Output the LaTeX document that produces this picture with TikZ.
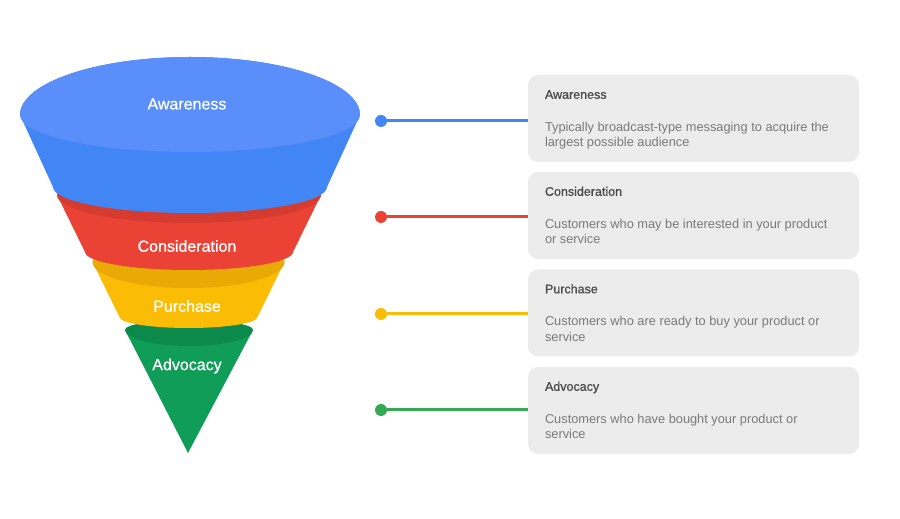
\documentclass[tikz,border=0pt]{standalone}
\usepackage{fontspec}
\setmainfont{Liberation Sans}
\newfontfamily\medfont[FakeBold=0.8]{Liberation Sans}
\usetikzlibrary{calc,positioning}
\definecolor{gblue}{HTML}{4285F4}
\definecolor{gbluetop}{HTML}{5A8EFB}
\definecolor{gred}{HTML}{EA4335}
\definecolor{gredtop}{HTML}{D63B30}
\definecolor{gyellow}{HTML}{FBBC05}
\definecolor{gyellowtop}{HTML}{EAAA05}
\definecolor{ggreen}{HTML}{0F9D58}
\definecolor{ggreentop}{HTML}{0C8A4C}
\definecolor{glink}{HTML}{34A853}
\definecolor{boxgrey}{HTML}{ECECEC}
\definecolor{titlegrey}{HTML}{4A4A4A}
\definecolor{textgrey}{HTML}{7A7A7A}
\begin{document}
\begin{tikzpicture}[x=1pt,y=1pt,
    dot/.style={circle,inner sep=0pt,minimum size=12pt},
    link/.style={line width=3pt},
    infobox/.style={rounded corners=10pt,fill=boxgrey,minimum width=331pt,minimum height=87pt,inner sep=0pt},
    boxtitle/.style={anchor=base west,inner sep=0pt,text=titlegrey,font=\medfont\fontsize{12.5}{15}\selectfont},
    boxtext/.style={anchor=north west,inner sep=0pt,align=left,text=textgrey,font=\fontsize{12.8}{15.5}\selectfont},
    stage/.style={text=white,font=\medfont\fontsize{16}{19}\selectfont}]
\useasboundingbox (0,0) rectangle (900,519);
% funnel, bottom layer first
\fill[ggreen] (125,189) -- (188,66) -- (253,189) arc[start angle=0,end angle=180,x radius=64,y radius=10] -- cycle;
\fill[ggreentop] (125,189) arc[start angle=180,end angle=0,x radius=64,y radius=10]
                 arc[start angle=0,end angle=-180,x radius=64,y radius=16] -- cycle;
\fill[gyellow] (92.5,257) -- (119.5,202) arc[start angle=180,end angle=360,x radius=69,y radius=11]
               -- (284.5,257) arc[start angle=0,end angle=180,x radius=96,y radius=15] -- cycle;
\fill[gyellowtop] (92.5,257) arc[start angle=180,end angle=0,x radius=96,y radius=15]
                  arc[start angle=0,end angle=-180,x radius=96,y radius=26] -- cycle;
\fill[gred] (57,324) -- (85,267) arc[start angle=180,end angle=360,x radius=104,y radius=18]
            -- (321,324) arc[start angle=0,end angle=180,x radius=132,y radius=20] -- cycle;
\fill[gredtop] (57,324) arc[start angle=180,end angle=0,x radius=132,y radius=20]
               arc[start angle=0,end angle=-180,x radius=132,y radius=28] -- cycle;
\fill[gblue] (20,404) -- (53,332) arc[start angle=180,end angle=360,x radius=137,y radius=26]
             -- (327,332) -- (360,404) arc[start angle=0,end angle=180,x radius=170,y radius=58] -- cycle;
\fill[gbluetop] (20,404) arc[start angle=180,end angle=0,x radius=170,y radius=58]
                arc[start angle=0,end angle=-180,x radius=170,y radius=37] -- cycle;
\node[stage] (awstage) at (187,415) {Awareness};
\node[stage] (costage) at (187,273) {Consideration};
\node[stage] (pustage) at (187,213) {Purchase};
\node[stage] (adstage) at (187,153) {Advocacy};
% awareness
\node[infobox] (awbox) at (693.5,400.5) {};
\node[dot,fill=gblue] (awdot) at (381,398) {};
\draw[link,gblue] (awdot) -- (awbox.west |- awdot);
\node[boxtitle] (awtitle) at ($(awbox.north west)+(17,-24)$) {Awareness};
\node[boxtext] (awtext) at ($(awbox.north west)+(17,-47)$) {Typically broadcast-type messaging to acquire the\\largest possible audience};
% consideration
\node[infobox] (cobox) at (693.5,303.5) {};
\node[dot,fill=gred] (codot) at (381,302) {};
\draw[link,gred] (codot) -- (cobox.west |- codot);
\node[boxtitle] (cotitle) at ($(cobox.north west)+(17,-24)$) {Consideration};
\node[boxtext] (cotext) at ($(cobox.north west)+(17,-47)$) {Customers who may be interested in your product\\or service};
% purchase
\node[infobox] (pubox) at (693.5,206) {};
\node[dot,fill=gyellow] (pudot) at (381,205) {};
\draw[link,gyellow] (pudot) -- (pubox.west |- pudot);
\node[boxtitle] (putitle) at ($(pubox.north west)+(17,-24)$) {Purchase};
\node[boxtext] (putext) at ($(pubox.north west)+(17,-47)$) {Customers who are ready to buy your product or\\service};
% advocacy
\node[infobox] (adbox) at (693.5,108.5) {};
\node[dot,fill=glink] (addot) at (381,109) {};
\draw[link,glink] (addot) -- (adbox.west |- addot);
\node[boxtitle] (adtitle) at ($(adbox.north west)+(17,-24)$) {Advocacy};
\node[boxtext] (adtext) at ($(adbox.north west)+(17,-47)$) {Customers who have bought your product or\\service};
\end{tikzpicture}
\end{document}
